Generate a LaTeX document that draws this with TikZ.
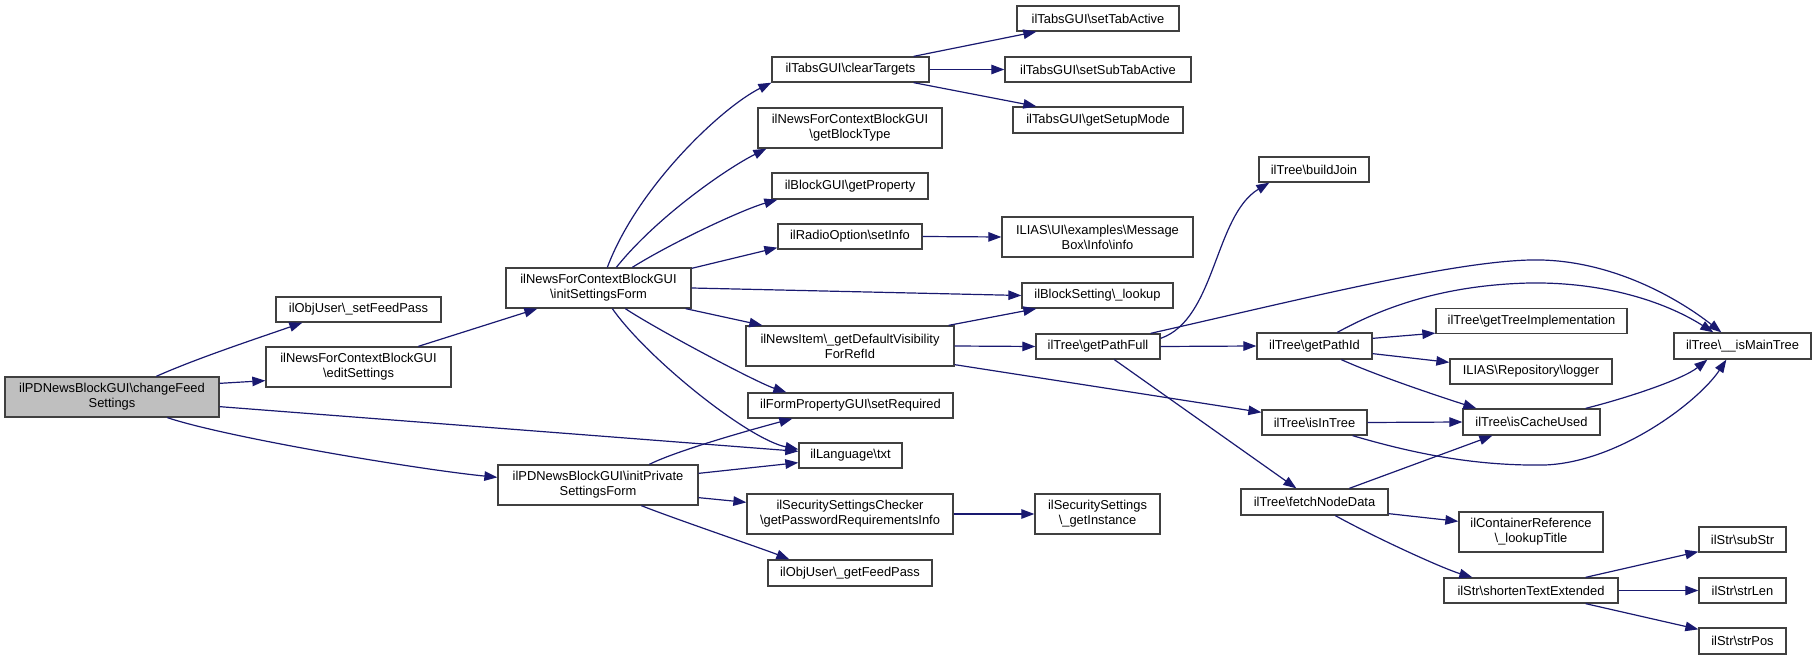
\documentclass[tikz,border=0pt]{standalone}
\usepackage{fontspec}
\setmainfont{Liberation Sans}
\usetikzlibrary{arrows.meta,calc}
\definecolor{edgeblue}{HTML}{191970}
\definecolor{boxline}{HTML}{404040}
\definecolor{rootfill}{HTML}{BFBFBF}
\tikzset{
  box/.style={draw=boxline, line width=1.3pt, fill=white, inner sep=0pt, align=center,
    font=\fontsize{12.9}{15}\selectfont},
  rootbox/.style={box, fill=rootfill},
  edge/.style={draw=edgeblue, line width=1.2pt, -{Triangle[length=13pt,width=9.5pt]}},
}
\begin{document}
\begin{tikzpicture}[x=1pt,y=-1pt]
\useasboundingbox (0,0) rectangle (1816,660);
% nodes
\node[rootbox,minimum width=214,minimum height=40] (A) at (112,397) {ilPDNewsBlockGUI\textbackslash changeFeed\\Settings};
\node[box,minimum width=165,minimum height=25] (B) at (358.5,309.5) {ilObjUser\textbackslash\_setFeedPass};
\node[box,minimum width=185,minimum height=40] (C) at (358.5,367) {ilNewsForContextBlockGUI\\\textbackslash editSettings};
\node[box,minimum width=185,minimum height=40] (D) at (598.5,288) {ilNewsForContextBlockGUI\\\textbackslash initSettingsForm};
\node[box,minimum width=200,minimum height=40] (E) at (598,485) {ilPDNewsBlockGUI\textbackslash initPrivate\\SettingsForm};
\node[box,minimum width=157,minimum height=25] (F) at (850.5,69.5) {ilTabsGUI\textbackslash clearTargets};
\node[box,minimum width=184,minimum height=40] (G) at (850,128) {ilNewsForContextBlockGUI\\\textbackslash getBlockType};
\node[box,minimum width=156,minimum height=26] (H) at (850,186) {ilBlockGUI\textbackslash getProperty};
\node[box,minimum width=144,minimum height=25] (I) at (850,236.5) {ilRadioOption\textbackslash setInfo};
\node[box,minimum width=208,minimum height=40] (J) at (850,346) {ilNewsItem\textbackslash\_getDefaultVisibility\\ForRefId};
\node[box,minimum width=205,minimum height=25] (K) at (850.5,405.5) {ilFormPropertyGUI\textbackslash setRequired};
\node[box,minimum width=103,minimum height=25] (L) at (850.5,455.5) {ilLanguage\textbackslash txt};
\node[box,minimum width=206,minimum height=40] (M) at (850,514) {ilSecuritySettingsChecker\\\textbackslash getPasswordRequirementsInfo};
\node[box,minimum width=164,minimum height=26] (N) at (850,573) {ilObjUser\textbackslash\_getFeedPass};
\node[box,minimum width=162,minimum height=25] (O) at (1098,18.5) {ilTabsGUI\textbackslash setTabActive};
\node[box,minimum width=186,minimum height=25] (P) at (1098,69.5) {ilTabsGUI\textbackslash setSubTabActive};
\node[box,minimum width=170,minimum height=26] (Q) at (1098,120) {ilTabsGUI\textbackslash getSetupMode};
\node[box,minimum width=191,minimum height=40] (R) at (1097.5,237) {ILIAS\textbackslash UI\textbackslash examples\textbackslash Message\\Box\textbackslash Info\textbackslash info};
\node[box,minimum width=151,minimum height=25] (S) at (1097.5,295.5) {ilBlockSetting\textbackslash\_lookup};
\node[box,minimum width=124,minimum height=25] (T) at (1098,346.5) {ilTree\textbackslash getPathFull};
\node[box,minimum width=125,minimum height=40] (U) at (1097.5,514) {ilSecuritySettings\\\textbackslash\_getInstance};
\node[box,minimum width=110,minimum height=25] (V) at (1314,169.5) {ilTree\textbackslash buildJoin};
\node[box,minimum width=115,minimum height=26] (W) at (1314.5,346) {ilTree\textbackslash getPathId};
\node[box,minimum width=105,minimum height=25] (X) at (1314.5,422.5) {ilTree\textbackslash isInTree};
\node[box,minimum width=147,minimum height=26] (Y) at (1314.5,502) {ilTree\textbackslash fetchNodeData};
\node[box,minimum width=191,minimum height=25] (Z) at (1531.5,321) {ilTree\textbackslash getTreeImplementation};
\node[box,minimum width=162,minimum height=25] (AA) at (1531,371.5) {ILIAS\textbackslash Repository\textbackslash logger};
\node[box,minimum width=137,minimum height=26] (AB) at (1531.5,422) {ilTree\textbackslash isCacheUsed};
\node[box,minimum width=144,minimum height=40] (AC) at (1531,532) {ilContainerReference\\\textbackslash\_lookupTitle};
\node[box,minimum width=174,minimum height=25] (AD) at (1531,590.5) {ilStr\textbackslash shortenTextExtended};
\node[box,minimum width=137,minimum height=26] (AE) at (1742.5,346) {ilTree\textbackslash\_\_isMainTree};
\node[box,minimum width=87,minimum height=25] (AF) at (1742.5,539.5) {ilStr\textbackslash subStr};
\node[box,minimum width=87,minimum height=25] (AG) at (1742.5,590.5) {ilStr\textbackslash strLen};
\node[box,minimum width=87,minimum height=26] (AH) at (1742.5,641) {ilStr\textbackslash strPos};
% waypoints
\coordinate (tm1) at (1530,260);
\coordinate (wm1) at (1530,283);
\coordinate (xm1) at (1545,465);
% edges
\draw[edge] ($(A.north west)+(152,0)$) .. controls +(40,-18) and +(-40,14) .. ($(B.south west)+(27,0)$);
\draw[edge] ($(A.north east)+(0,7)$) -- ($(C.south west)+(0,-7)$);
\draw[edge] ($(A.south east)+(0,-11)$) -- ($(L.north west)+(0,9)$);
\draw[edge] ($(A.south west)+(163,0)$) .. controls +(60,20) and +(-80,-8) .. ($(E.north west)+(0,13)$);
\draw[edge] ($(C.north west)+(153,0)$) -- ($(D.south west)+(32,0)$);
\draw[edge] ($(D.north west)+(102,0)$) .. controls +(30,-80) and +(-50,25) .. (F.south west);
\draw[edge] ($(D.north west)+(111,0)$) .. controls +(40,-50) and +(-40,20) .. ($(G.south west)+(9,0)$);
\draw[edge] ($(D.north west)+(127,0)$) .. controls +(40,-25) and +(-35,10) .. ($(H.south west)+(6,0)$);
\draw[edge] ($(D.north east)+(0,1)$) -- ($(I.south west)+(0,-2)$);
\draw[edge] (D.east) -- (S.west);
\draw[edge] ($(D.south east)+(-6,0)$) -- ($(J.north west)+(17,0)$);
\draw[edge] ($(D.south west)+(120,0)$) .. controls +(30,20) and +(-30,-10) .. ($(K.north west)+(39,0)$);
\draw[edge] ($(D.south west)+(107,0)$) .. controls +(35,50) and +(-50,-10) .. ($(L.north west)+(0,7)$);
\draw[edge] ($(E.north west)+(152,0)$) .. controls +(30,-15) and +(-30,8) .. ($(K.south west)+(45,0)$);
\draw[edge] ($(E.north east)+(0,9)$) -- ($(L.south west)+(0,-6)$);
\draw[edge] ($(E.south east)+(0,-8)$) -- ($(M.north west)+(0,9)$);
\draw[edge] ($(E.south west)+(144,0)$) .. controls +(30,12) and +(-25,-10) .. ($(N.north west)+(22,0)$);
\draw[edge] ($(F.north east)+(-16,0)$) -- ($(O.south west)+(20,0)$);
\draw[edge] (F.east) -- (P.west);
\draw[edge] ($(F.south east)+(-16,0)$) -- ($(Q.north west)+(24,0)$);
\draw[edge] (I.east) -- (R.west);
\draw[edge] ($(J.north east)+(-6,0)$) -- ($(S.south west)+(15,0)$);
\draw[edge] (J.east) -- (T.west);
\draw[edge] ($(J.south east)+(0,-2)$) -- ($(X.north west)+(0,3)$);
\draw[edge] ($(T.north east)+(0,5)$) .. controls +(55,-19) and +(-55,33) .. ($(V.south west)+(11,0)$);
\draw[edge] ($(T.north east)+(-10,0)$) .. controls +(150,-34) and +(-80,2) .. (tm1) .. controls +(80,-2) and +(-42,-33) .. ($(AE.north west)+(48,0)$);
\draw[edge] ($(W.north west)+(81,0)$) .. controls +(42,-23) and +(-90,2) .. (wm1) .. controls +(80,-1) and +(-44,-28) .. ($(AE.north west)+(40,0)$);
\draw[edge] (T.east) -- (W.west);
\draw[edge] ($(T.south west)+(79,0)$) -- ($(Y.north west)+(56,0)$);
\draw[edge] ($(W.north east)+(0,6)$) -- ($(Z.south west)+(0,-1)$);
\draw[edge] ($(W.south east)+(0,-6)$) -- ($(AA.north west)+(0,4)$);
\draw[edge] ($(W.south west)+(85,0)$) .. controls +(40,18) and +(-25,-8) .. ($(AB.north west)+(14,0)$);
\draw[edge] (X.east) -- (AB.west);
\draw[edge] ($(X.south east)+(-15,0)$) .. controls +(68,20) and +(-65,1) .. (xm1) .. controls +(75,-3) and +(-27,41) .. ($(AE.south west)+(53,0)$);
\draw[edge] ($(AB.north east)+(-15,0)$) .. controls +(40,-10) and +(-25,20) .. ($(AE.south west)+(34,0)$);
\draw[edge] ($(Y.north west)+(109,0)$) -- ($(AB.south west)+(30,0)$);
\draw[edge] ($(Y.south east)+(0,-2)$) -- ($(AC.north west)+(0,10)$);
\draw[edge] ($(Y.south west)+(95,0)$) .. controls +(40,22) and +(-30,-9) .. ($(AD.north west)+(29,0)$);
\draw[edge] ($(AD.north east)+(-33,0)$) -- ($(AF.south west)+(0,-1)$);
\draw[edge] (AD.east) -- (AG.west);
\draw[edge] ($(AD.south east)+(-33,0)$) -- ($(AH.north west)+(0,2)$);
\draw[edge] (M.east) -- (U.west);
\end{tikzpicture}
\end{document}
